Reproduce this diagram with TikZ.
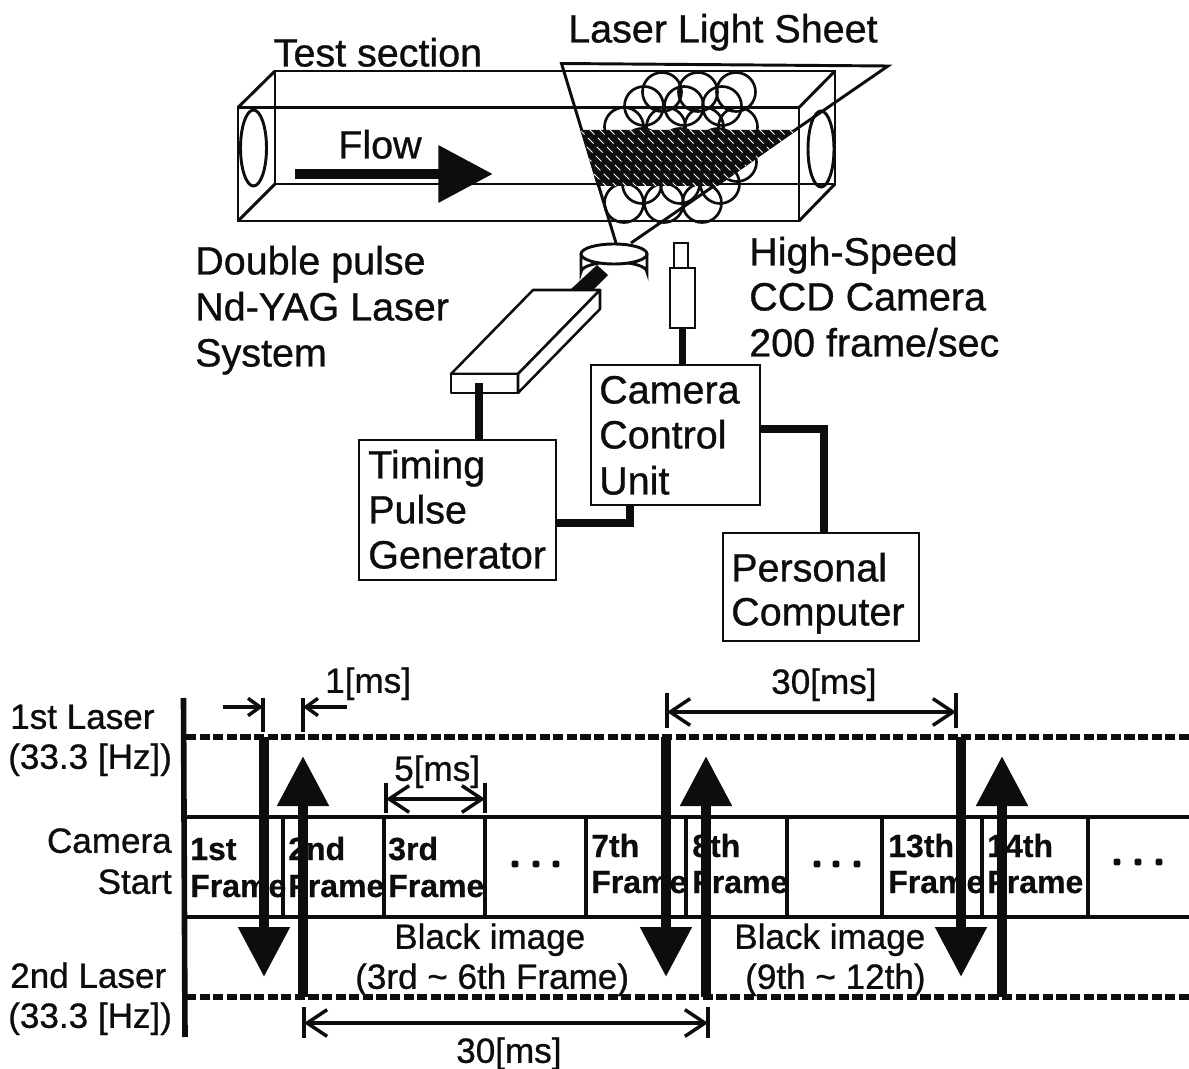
\documentclass[tikz,border=0pt]{standalone}
\usepackage{fontspec}
\setmainfont{Liberation Sans}
\newfontfamily\heavy[FakeBold=0.8]{Liberation Sans}
\newfontfamily\heavybold[FakeBold=0.5]{Liberation Sans Bold}
\usetikzlibrary{arrows.meta}
\definecolor{ink}{gray}{0.05}
\tikzset{
  txt/.style={anchor=base west,inner sep=0pt,text=ink,font=\heavy\fontsize{29.6}{30}\selectfont,yshift=-1.1pt},
  txs/.style={anchor=base west,inner sep=0pt,text=ink,font=\heavy\fontsize{26.3}{28}\selectfont,yshift=-0.6pt},
  txr/.style={anchor=base east,inner sep=0pt,text=ink,font=\heavy\fontsize{26.3}{28}\selectfont,yshift=-0.6pt},
  txb/.style={anchor=base west,inner sep=0pt,text=ink,font=\heavybold\fontsize{24}{25}\selectfont},
  thin line/.style={draw=ink,line width=2.2pt},
  blockbox/.style={draw=ink,line width=1.9pt,fill=white,inner sep=0pt},
  wire/.style={draw=ink,line width=5.6pt,line cap=butt},
  dashline/.style={draw=ink,line width=3.8pt,dash pattern=on 7.6pt off 2.6pt},
  band/.style={draw=ink,line width=3.3pt},
  divider/.style={draw=ink,line width=3pt},
  tick/.style={draw=ink,line width=2.6pt},
  dim/.style={draw=ink,line width=2.8pt,{Straight Barb[length=15pt,width=20pt,line width=2.6pt]}-{Straight Barb[length=15pt,width=20pt,line width=2.6pt]}},
  short/.style={draw=ink,line width=2.8pt,-{Straight Barb[length=9pt,width=13pt,line width=2.6pt]}},
  pulse/.style={draw=ink,line width=7.8pt,-{Triangle[length=37.5pt,width=37pt]}},
  ring/.style={draw=ink,line width=2pt},
  dotmark/.style={fill=ink,inner sep=0pt,minimum size=5pt,rounded corners=1pt},
}
\begin{document}
\begin{tikzpicture}[x=0.75pt,y=-0.75pt]
\useasboundingbox (0,0) rectangle (1189,1069);
\fill[white] (0,0) rectangle (1189,1069);
% circles behind
\foreach \cx/\cy in {662/92,698/92,736/92,644/106,684/106,722/106,624/127,666/127,704/127,738/127,
  642/148,680/148,718/148,737/162,624/203,664/203,702/203,642/184,680/184,720/184}{
  \draw[ring] (\cx,\cy) circle (19.5);
}
% test section
\coordinate (fa) at (238,107.5); \coordinate (fb) at (799,107.5);
\coordinate (fc) at (799,221); \coordinate (fd) at (238,221);
\coordinate (ba) at (275,71); \coordinate (bb) at (835,71);
\coordinate (bc) at (835,184); \coordinate (bd) at (275,184);
\draw[thin line] (fa)--(fb)--(fc)--(fd)--cycle;
\draw[thin line] (ba)--(bb)--(bc)--(bd)--cycle;
\draw[thin line] (fa)--(ba) (fb)--(bb) (fc)--(bc) (fd)--(bd);
\draw[thin line] (253.5,148) ellipse (13 and 38);
\draw[thin line] (821,149) ellipse (13 and 38);
% light sheet
\coordinate (sa) at (561.5,63.5); \coordinate (sb) at (888,66);
\coordinate (sc) at (616,243); \coordinate (sd) at (631,243);
\draw[thin line] (sc)--(sa)--(sb)--(sd);
% hatched cut
\begin{scope}
\clip (581,130)--(797,130)--(718,186)--(597,186)--cycle;
\fill[ink] (570,120) rectangle (810,200);
\foreach \k in {0,10,...,340}{
  \draw[white,line width=0.6pt,dash pattern=on 6pt off 3.5pt] (500+\k,120)--(580+\k,200);
}
\end{scope}
% flow
\coordinate (fl0) at (295,174); \coordinate (fl1) at (493,174);
\draw[draw=ink,line width=8.2pt,-{Triangle[length=41pt,width=41pt]}] (fl0)--(fl1);
% lens
\coordinate (ln) at (614,254);
\draw[thin line,fill=white] (581,254)--(581,272) arc[start angle=180,end angle=360,x radius=33,y radius=10]--(647,254);
\draw[thin line,fill=white] (ln) ellipse (33 and 10);
\fill[ink] (570,290)--(597,265)--(608,275)--(593,290)--cycle;
% laser head
\coordinate (la) at (533,290); \coordinate (lb) at (600,290);
\coordinate (lc) at (518,374); \coordinate (ld) at (451,374);
\coordinate (le) at (451,393); \coordinate (lf) at (518,393); \coordinate (lg) at (600,309);
\draw[blockbox,line join=round] (la)--(lb)--(lc)--(ld)--cycle;
\draw[blockbox,line join=round] (ld)--(lc)--(lf)--(le)--cycle;
\draw[blockbox,line join=round] (lb)--(lg)--(lf)--(lc)--cycle;
% camera
\node[blockbox,minimum width=10.5pt,minimum height=18.75pt] (camtop) at (681,255.5) {};
\node[blockbox,minimum width=18.75pt,minimum height=45pt] (cambody) at (682.5,298) {};
% boxes
\node[blockbox,minimum width=147.75pt,minimum height=105pt] (timing) at (457.5,510) {};
\node[blockbox,minimum width=126.75pt,minimum height=105pt] (ctrl) at (675.5,435) {};
\node[blockbox,minimum width=147pt,minimum height=81pt] (pc) at (821,587) {};
% wires
\coordinate (lw) at (479,383);
\draw[wire] (lw)--(lw|-timing.north);
\draw[wire] (cambody.south)--(cambody.south|-ctrl.north);
\coordinate (t1) at (timing.east|-0,523);
\coordinate (t2) at (630,523);
\draw[wire,line join=miter] (t1)--(t2)--(t2|-ctrl.south);
\coordinate (c1) at (ctrl.east|-0,429);
\coordinate (c2) at (824,429);
\draw[wire] (c1)--(c2)--(c2|-pc.north);
% top labels
\node[txt] (tTest) at (273.5,65) {Test section};
\node[txt] (tSheet) at (568,41) {Laser Light Sheet};
\node[txt] (tFlow) at (338,157) {Flow};
\node[txt] (tD1) at (195,273) {Double pulse};
\node[txt] (tD2) at (195,319) {Nd-YAG Laser};
\node[txt] (tD3) at (195,365) {System};
\node[txt] (tH1) at (749,264) {High-Speed};
\node[txt] (tH2) at (749,309) {CCD Camera};
\node[txt] (tH3) at (749,355) {200 frame/sec};
\node[txt] (tT1) at (368,477) {Timing};
\node[txt] (tT2) at (368,522) {Pulse};
\node[txt] (tT3) at (368,567) {Generator};
\node[txt] (tC1) at (599,402) {Camera};
\node[txt] (tC2) at (599,447) {Control};
\node[txt] (tC3) at (599,493) {Unit};
\node[txt] (tP1) at (731,580) {Personal};
\node[txt] (tP2) at (731,624) {Computer};
% timing chart
\coordinate (ax0) at (183.5,698); \coordinate (ax1) at (185,1037);
\draw[draw=ink,line width=4.2pt] (ax0)--(ax1);
\coordinate (d1l) at (186,737); \coordinate (d1r) at (1189,737);
\coordinate (d2l) at (186,997); \coordinate (d2r) at (1189,997);
\draw[dashline] (d1l)--(d1r);
\draw[dashline] (d2l)--(d2r);
\coordinate (bt0) at (186,817); \coordinate (bt1) at (1189,817);
\coordinate (bb0) at (186,917); \coordinate (bb1) at (1189,917);
\draw[band] (bt0)--(bt1); \draw[band] (bb0)--(bb1);
\foreach \x in {283,384,485,585.5,685.5,787,881.5,982,1088}{
  \draw[divider] (\x,817)--(\x,917);
}
% left labels
\node[txs] (l1) at (10,728) {1st Laser};
\node[txs] (l2) at (8,768) {(33.3 [Hz])};
\node[txr] (l3) at (172,852) {Camera};
\node[txr] (l4) at (172,893) {Start};
\node[txs] (l5) at (10,987) {2nd Laser};
\node[txs] (l6) at (8,1027) {(33.3 [Hz])};
% frame labels
\node[txb] (f1a) at (190,860) {1st};
\node[txb] (f1b) at (190,897) {Frame};
\node[txb] (f2a) at (288,860) {2nd};
\node[txb] (f2b) at (288,897) {Frame};
\node[txb] (f3a) at (388,860) {3rd};
\node[txb] (f3b) at (388,897) {Frame};
\node[txb] (f7a) at (591,857) {7th};
\node[txb] (f7b) at (591,893) {Frame};
\node[txb] (f8a) at (692,857) {8th};
\node[txb] (f8b) at (692,893) {Frame};
\node[txb] (f13a) at (888,857) {13th};
\node[txb] (f13b) at (888,893) {Frame};
\node[txb] (f14a) at (987,857) {14th};
\node[txb] (f14b) at (987,893) {Frame};
\foreach \x/\y in {515/864,536/864,556/864,817/864,836/864,857/864,1117/862,1138/862,1159/862}{
  \node[dotmark] at (\x,\y) {};
}
% black image text
\node[txs] (b1) at (394,948) {Black image};
\node[txs] (b2) at (355,988) {(3rd \textasciitilde{} 6th Frame)};
\node[txs] (b3) at (734,948) {Black image};
\node[txs] (b4) at (745,988) {(9th \textasciitilde{} 12th)};
% pulses
\foreach \x in {264,666,961}{
  \coordinate (pd) at (\x,737); \coordinate (pe) at (\x,977);
  \draw[pulse] (pd)--(pe);
}
\foreach \x in {303,706,1002}{
  \coordinate (pu) at (\x,997); \coordinate (pv) at (\x,756);
  \draw[pulse] (pu)--(pv);
}
% dimensions
\coordinate (k1a) at (263,698); \coordinate (k1b) at (263,732);
\coordinate (k2a) at (303,698); \coordinate (k2b) at (303,732);
\draw[tick] (k1a)--(k1b); \draw[tick] (k2a)--(k2b);
\coordinate (m1) at (223,707); \coordinate (m2) at (347,707);
\draw[short] (m1)--(m1-|k1a);
\draw[short] (m2)--(m2-|k2a);
\node[txs] (d1) at (325,692) {1[ms]};
\coordinate (k3a) at (386,783); \coordinate (k3b) at (386,813);
\coordinate (k4a) at (485,783); \coordinate (k4b) at (485,813);
\draw[tick] (k3a)--(k3b); \draw[tick] (k4a)--(k4b);
\coordinate (n1) at (386,799); \coordinate (n2) at (485,799);
\draw[dim] (n1)--(n2);
\node[txs] (d2) at (394,780) {5[ms]};
\coordinate (k5a) at (667,693); \coordinate (k5b) at (667,728);
\coordinate (k6a) at (956,693); \coordinate (k6b) at (956,728);
\draw[tick] (k5a)--(k5b); \draw[tick] (k6a)--(k6b);
\coordinate (o1) at (667,712); \coordinate (o2) at (956,712);
\draw[dim] (o1)--(o2);
\node[txs] (d3) at (771,693) {30[ms]};
\coordinate (k7a) at (304,1007); \coordinate (k7b) at (304,1038);
\coordinate (k8a) at (708,1007); \coordinate (k8b) at (708,1038);
\draw[tick] (k7a)--(k7b); \draw[tick] (k8a)--(k8b);
\coordinate (q1) at (304,1023); \coordinate (q2) at (708,1023);
\draw[dim] (q1)--(q2);
\node[txs] (d4) at (456,1062) {30[ms]};
\end{tikzpicture}
\end{document}
